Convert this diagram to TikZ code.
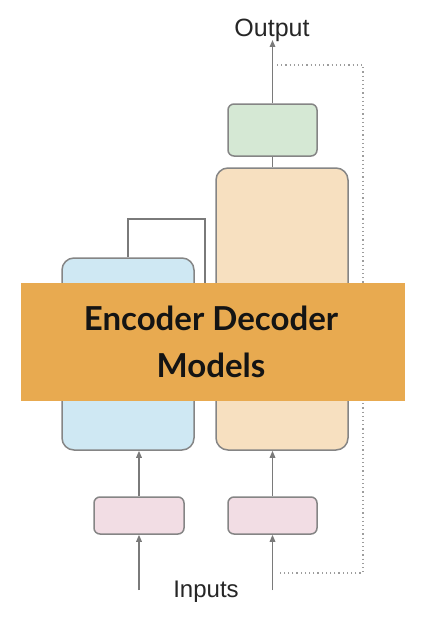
\documentclass[tikz,border=0pt]{standalone}
\usepackage{fontspec}
\setmainfont{Liberation Sans}
\newfontfamily\latofont{Lato}
\usetikzlibrary{arrows.meta}
\definecolor{encblue}{HTML}{CFE8F3}
\definecolor{decbeige}{HTML}{F7E0C0}
\definecolor{gengreen}{HTML}{D5E8D4}
\definecolor{embpink}{HTML}{F2DDE4}
\definecolor{bandorange}{HTML}{E8AA50}
\definecolor{edgegray}{HTML}{858585}
\definecolor{linegray}{HTML}{7A7A7A}
\tikzset{
  blk/.style={draw=edgegray, line width=1.5pt, rounded corners=#1, inner sep=0pt},
  blk/.default=8pt,
  conn/.style={draw=linegray, line width=1.5pt},
  arr/.style={conn, -{Triangle[length=7pt,width=5.5pt]}},
  feedback/.style={draw=edgegray!80, line width=1.2pt, dash pattern=on 1.2pt off 3pt},
  lbl/.style={font=\fontsize{24}{26}\selectfont, inner sep=0pt, text=black!85},
}
\begin{document}
\begin{tikzpicture}[x=1pt,y=-1pt]
\fill[white] (0,0) rectangle (436,626);
\useasboundingbox (0,0) rectangle (436,626);
% blocks
\node[blk=12pt, fill=encblue, minimum width=132pt, minimum height=192pt] (enc) at (128,354) {};
\node[blk=12pt, fill=decbeige, minimum width=132pt, minimum height=282pt] (dec) at (282,309) {};
\node[blk=6pt, fill=gengreen, minimum width=89pt, minimum height=52pt] (gen) at (272.5,130) {};
\node[blk=6pt, fill=embpink, minimum width=90pt, minimum height=37pt] (embL) at (139,515.5) {};
\node[blk=6pt, fill=embpink, minimum width=89pt, minimum height=37pt] (embR) at (272.5,515.5) {};
% labels
\node[lbl, anchor=base, font=\fontsize{25}{27}\selectfont] (out) at (272,37) {Output};
\node[lbl, anchor=base] (inp) at (206,597) {Inputs};
\coordinate (outtip) at (272.5,40);
\coordinate (inL) at (139,590);
\coordinate (inR) at (272.5,590);
\coordinate (fbA) at (277,65);
\coordinate (fbB) at (363,65);
\coordinate (fbC) at (363,573);
\coordinate (fbD) at (277,573);
\coordinate (cross) at (205,219);
% connectors
\draw[arr] (gen.north) -- (outtip);
\draw[conn] (gen.south) -- (gen.south |- dec.north);
\draw[arr] (embL.north) -- (embL.north |- enc.south);
\draw[arr] (embR.north) -- (embR.north |- dec.south);
\draw[arr] (inL) -- (embL.south);
\draw[arr] (inR) -- (embR.south);
\draw[conn] (enc.north) |- (cross) -- (205,330) -- (dec.west |- 0,330);
\draw[feedback] (fbA) -- (fbB) -- (fbC) -- (fbD);
% title band
\node[fill=bandorange, minimum width=384pt, minimum height=118pt, inner sep=0pt] (band) at (213,342) {};
\node[font=\latofont\bfseries\fontsize{33}{47}\selectfont, text=black!92, align=center, inner sep=0pt] (title) at (211,342) {Encoder Decoder\\Models};
\end{tikzpicture}
\end{document}
